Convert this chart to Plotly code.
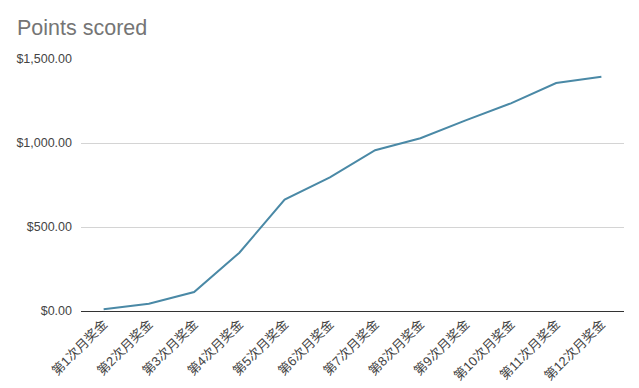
import plotly.graph_objects as go

categories = ["第1次月奖金", "第2次月奖金", "第3次月奖金", "第4次月奖金", "第5次月奖金", "第6次月奖金",
              "第7次月奖金", "第8次月奖金", "第9次月奖金", "第10次月奖金", "第11次月奖金", "第12次月奖金"]
points = [10, 43, 113, 347, 663, 795, 957, 1028, 1135, 1236, 1357, 1395]
y_ticks = [0, 500, 1000, 1500]

font_family = "Arial, 'Liberation Sans', 'Noto Sans CJK SC', sans-serif"

# page body has an 8px default margin; compensate in the layout
OFF = 8

fig = go.Figure()
fig.add_trace(go.Scatter(
    x=categories, y=points, mode="lines",
    line=dict(color="#4a89a6", width=2),
    hoverinfo="x+y",
))

fig.update_layout(
    width=639, height=388,
    margin=dict(l=81 - OFF, r=15 + OFF, t=59 - OFF, b=77 + OFF, autoexpand=False),
    paper_bgcolor="white", plot_bgcolor="white",
    font=dict(family=font_family, color="#444444", size=12),
    title=dict(text="Points scored", x=(17 - OFF) / 639, xanchor="left", xref="container",
               y=1 - (27 - OFF) / 388, yanchor="middle", yref="container", automargin=False,
               pad=dict(l=0, r=0, t=0, b=0),
               font=dict(size=21.5, color="#757575", family=font_family)),
    showlegend=False,
)
fig.update_xaxes(
    type="category", tickangle=-45, showgrid=False, showline=False,
    range=[-0.5, len(categories) - 0.5], automargin=False,
    ticks="", ticklabelstandoff=2, tickfont=dict(size=13, color="#444444"),
)
fig.update_yaxes(
    range=[0, 1500], tickvals=y_ticks, tickformat="$,.2f", automargin=False,
    showgrid=True, gridcolor="#d4d4d4", gridwidth=1,
    zeroline=True, zerolinecolor="#333333", zerolinewidth=1,
    showline=False, ticks="", ticklabelstandoff=8,
    tickfont=dict(size=12.5, color="#444444"),
)

fig.write_html("out.html")
